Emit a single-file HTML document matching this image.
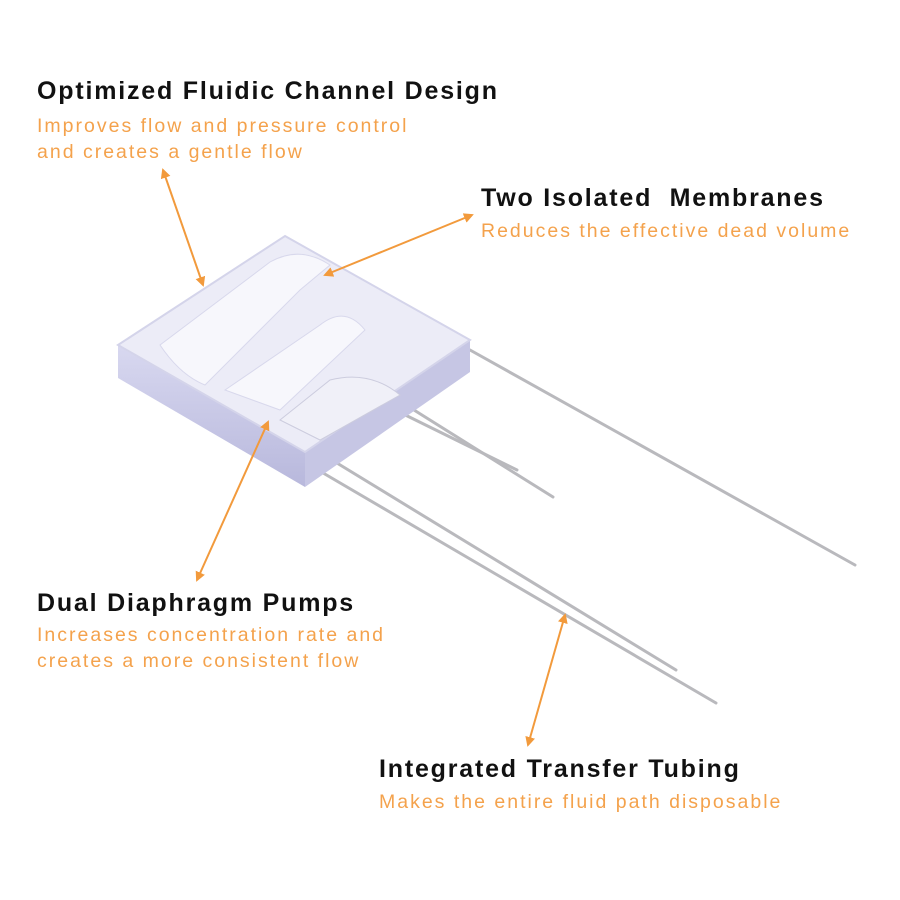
<!DOCTYPE html>
<html><head><style>
body{margin:0;width:900px;height:900px;background:#fff;position:relative;overflow:hidden;font-family:"Liberation Sans",sans-serif}
.h{position:absolute;font-weight:bold;font-size:25px;letter-spacing:1.8px;color:#111;white-space:nowrap}
.s{position:absolute;font-size:19.5px;letter-spacing:2px;color:#f4a24c;line-height:26px;white-space:nowrap}
</style></head><body>
<svg width="900" height="900" style="position:absolute;left:0;top:0">
<defs>
<marker id="a" markerWidth="10" markerHeight="10" refX="8" refY="5" orient="auto-start-reverse" markerUnits="userSpaceOnUse"><path d="M0,0 L10,5 L0,10 Z" fill="#f29a3c"/></marker>
<linearGradient id="side" x1="0" y1="0" x2="0" y2="1"><stop offset="0" stop-color="#d8d8f0"/><stop offset="1" stop-color="#b8b8dc"/></linearGradient>
</defs>
<g stroke="#b9b9bd" stroke-width="3" stroke-linecap="round">
<line x1="470" y1="350" x2="855" y2="565"/>
<line x1="398" y1="400" x2="553" y2="497"/>
<line x1="385" y1="405" x2="517" y2="470"/>
<line x1="332" y1="460" x2="676" y2="670"/>
<line x1="318" y1="470" x2="716" y2="703"/>
</g>
<path d="M118,345 L305,452 L305,487 L118,378 Z" fill="url(#side)"/>
<path d="M305,452 L470,340 L470,372 L305,487 Z" fill="#c6c6e4"/>
<path d="M285,236 L470,340 L305,452 L118,345 Z" fill="#ececf7" stroke="#d4d4ea" stroke-width="2"/>
<path d="M160,345 L270,262 Q300,245 330,265 L300,290 L205,385 Q180,375 160,345 Z" fill="#f7f7fc" stroke="#d8d8ec"/>
<path d="M225,390 L320,325 Q345,305 365,330 L280,410 Z" fill="#f7f7fc" stroke="#d8d8ec"/>
<path d="M280,420 L330,380 Q370,370 400,395 L320,440 Z" fill="#f0f0f8" stroke="#ccccde"/>
<g stroke="#f29a3c" stroke-width="2" fill="none">
<line x1="163" y1="170" x2="203" y2="285" marker-start="url(#a)" marker-end="url(#a)"/>
<line x1="472" y1="215" x2="325" y2="275" marker-start="url(#a)" marker-end="url(#a)"/>
<line x1="268" y1="422" x2="197" y2="580" marker-start="url(#a)" marker-end="url(#a)"/>
<line x1="565" y1="615" x2="528" y2="745" marker-start="url(#a)" marker-end="url(#a)"/>
</g>
</svg>
<div class="h" style="left:37px;top:77px">Optimized Fluidic Channel Design</div>
<div class="s" style="left:37px;top:113px">Improves flow and pressure control<br>and creates a gentle flow</div>
<div class="h" style="left:481px;top:184px">Two Isolated &nbsp;Membranes</div>
<div class="s" style="left:481px;top:218px">Reduces the effective dead volume</div>
<div class="h" style="left:37px;top:589px">Dual Diaphragm Pumps</div>
<div class="s" style="left:37px;top:622px">Increases concentration rate and<br>creates a more consistent flow</div>
<div class="h" style="left:379px;top:755px">Integrated Transfer Tubing</div>
<div class="s" style="left:379px;top:789px">Makes the entire fluid path disposable</div>
</body></html>
